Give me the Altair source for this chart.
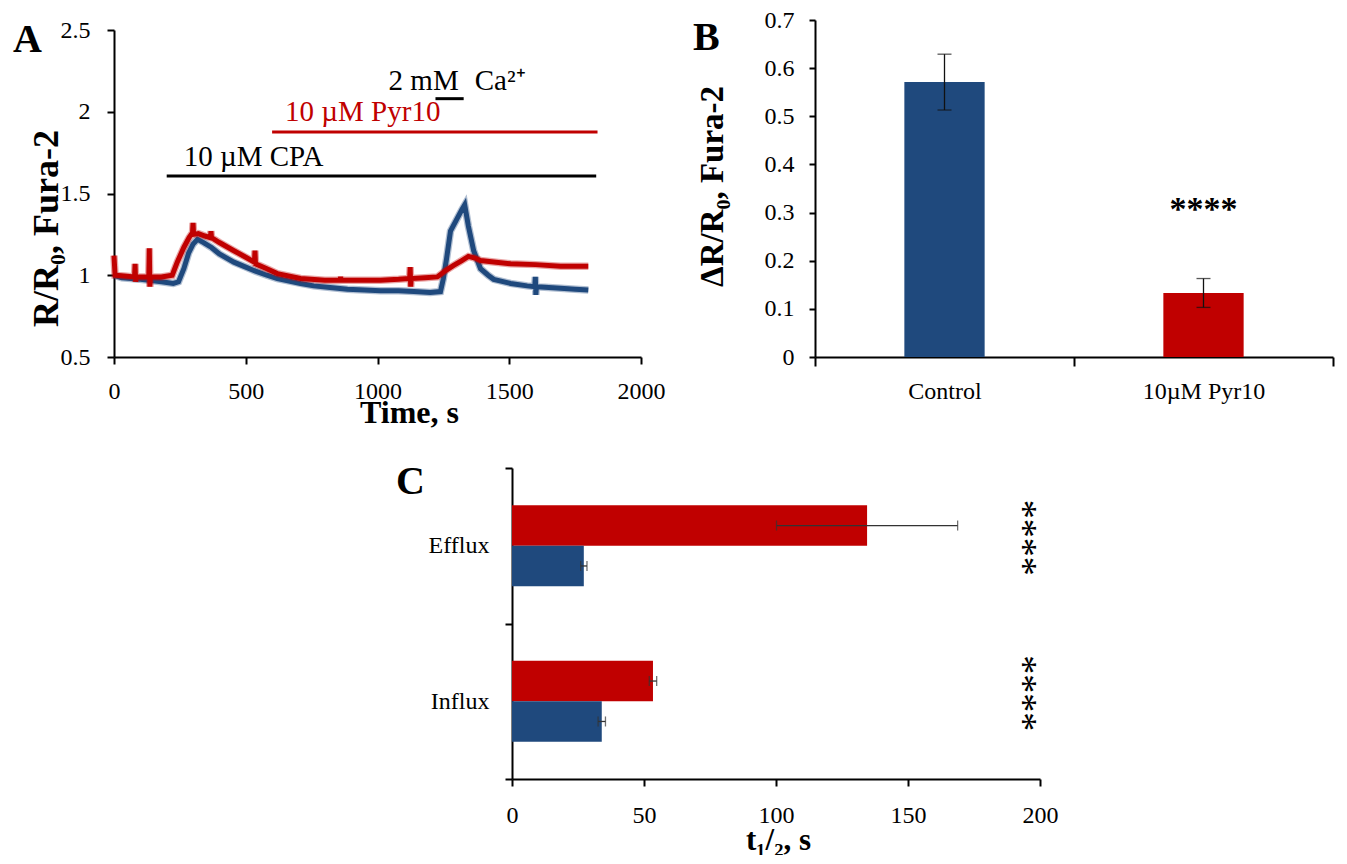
import altair as alt
import pandas as pd

BLUE = "#1F497D"
RED = "#C00000"
FONT = "Liberation Serif"

# ---------------- Panel A: Fura-2 traces ----------------
ctrl_t = [0, 30, 100, 180, 225, 245, 265, 283, 300, 317, 340, 370, 400, 455, 500, 537, 580, 620,
          708, 758, 820, 886, 950, 1012, 1080, 1138, 1200, 1239, 1250, 1262, 1277, 1300, 1320, 1331,
          1345, 1365, 1391, 1420, 1441, 1505, 1568, 1597, 1599, 1601, 1603, 1650, 1695, 1750, 1800]
ctrl_v = [1.0, 0.985, 0.975, 0.96, 0.95, 0.96, 1.04, 1.135, 1.19, 1.22, 1.2, 1.17, 1.13, 1.08, 1.05, 1.025, 1.0, 0.98,
          0.95, 0.935, 0.925, 0.915, 0.91, 0.905, 0.905, 0.9, 0.895, 0.9, 0.98, 1.1, 1.27, 1.34, 1.40, 1.43,
          1.3, 1.15, 1.04, 1.0, 0.975, 0.95, 0.935, 0.93, 0.99, 0.88, 0.93, 0.925, 0.92, 0.915, 0.91]

pyr_t = [0, 4, 40, 78, 80, 82, 84, 110, 132, 134, 136, 138, 180, 221, 240, 265, 285, 298, 300, 302,
         320, 345, 366, 368, 370, 400, 455, 500, 533, 535, 537, 580, 620, 708, 800, 858, 860, 862,
         950, 1012, 1080, 1122, 1124, 1126, 1128, 1180, 1227, 1260, 1289, 1320, 1345, 1370, 1391,
         1450, 1505, 1600, 1695, 1800]
pyr_v = [1.12, 1.0, 0.995, 0.99, 1.07, 0.96, 0.99, 0.99, 0.99, 1.165, 0.93, 0.99, 0.99, 1.0, 1.08, 1.17, 1.23, 1.26, 1.32, 1.25,
         1.255, 1.24, 1.23, 1.27, 1.23, 1.2, 1.15, 1.11, 1.08, 1.15, 1.07, 1.04, 1.01, 0.98, 0.97, 0.97, 0.99, 0.97,
         0.97, 0.97, 0.975, 0.98, 1.05, 0.93, 0.98, 0.985, 0.99, 1.03, 1.06, 1.09, 1.115, 1.105, 1.09,
         1.08, 1.07, 1.065, 1.055, 1.055]

# Treatment bars (start, end, level)
treat_label = ["10 µM CPA", "10 µM Pyr10", "Ca"]
treat_start = [200, 600, 1220]
treat_end = [1830, 1835, 1327]
treat_level = [1.607, 1.876, 2.08]
treat_color = ["#000000", RED, "#000000"]

# ---------------- Panel B ----------------
b_groups = ["Control", "10µM Pyr10"]
b_means = [0.571, 0.133]
b_errs = [0.058, 0.030]

# ---------------- Panel C ----------------
c_phase = ["Efflux", "Efflux", "Influx", "Influx"]
c_group = ["10µM Pyr10", "Control", "10µM Pyr10", "Control"]
c_means = [134.5, 27.2, 53.4, 34.0]
c_errs = [34.3, 1.2, 1.4, 1.4]
c_phases = ["Efflux", "Influx"]

H1 = 337
one = pd.DataFrame({"k": [0]})


def frame(x1, x2, y1, y2):
    # invisible box that fixes the panel's extent in the layout
    return alt.Chart(one).mark_rect(opacity=0).encode(
        x=alt.value(x1), x2=alt.value(x2), y=alt.value(y1), y2=alt.value(y2))


def letter(ch, x, y):
    return alt.Chart(one).mark_text(text=ch, font=FONT, fontSize=40, fontWeight="bold",
                                    align="left", baseline="alphabetic", color="#000").encode(
        x=alt.value(x), y=alt.value(y))


# ======================================================
dfA = pd.concat([
    pd.DataFrame({"t": ctrl_t, "v": ctrl_v, "s": "Control", "i": list(range(len(ctrl_t)))}),
    pd.DataFrame({"t": pyr_t, "v": pyr_v, "s": "Pyr10", "i": list(range(len(pyr_t)))}),
])
dfT = pd.DataFrame({"label": treat_label, "start": treat_start, "end": treat_end,
                    "level": treat_level, "color": treat_color})

xscaleA = alt.Scale(domain=[0, 2000], nice=False)
yscaleA = alt.Scale(domain=[0.5, 2.5], range=[H1, 10], nice=False, zero=False)
xaxisA = alt.Axis(values=[0, 500, 1000, 1500, 2000], format="d", title="Time, s", titleX=295, titleY=65,
                  titleBaseline="alphabetic", labelFlush=False, labelPadding=15, titleFontSize=32)
yaxisA = alt.Axis(values=[0.5, 1, 1.5, 2, 2.5], format=".1~f", title="R/R₀, Fura-2",
                  titleX=-57, titleY=208, titleBaseline="alphabetic", titleAngle=-90,
                  titleFontSize=36, labelPadding=17)


def XA(f):
    return alt.X(f, scale=xscaleA, axis=xaxisA)


def YA(f):
    return alt.Y(f, scale=yscaleA, axis=yaxisA)


baseA = alt.Chart(dfA).encode(x=XA("t:Q"), y=YA("v:Q"), order="i:Q")
blue_halo = baseA.transform_filter("datum.s == 'Control'").mark_line(color=BLUE, strokeWidth=7.5, opacity=0.35)
blue_line = baseA.transform_filter("datum.s == 'Control'").mark_line(color=BLUE, strokeWidth=5)
red_halo = baseA.transform_filter("datum.s == 'Pyr10'").mark_line(color=RED, strokeWidth=7.5, opacity=0.35)
red_line = baseA.transform_filter("datum.s == 'Pyr10'").mark_line(color=RED, strokeWidth=5)

rules = alt.Chart(dfT).mark_rule(strokeWidth=3).encode(
    x=XA("start:Q"), x2="end:Q", y=YA("level:Q"), color=alt.Color("color:N", scale=None))

txt_cpa = alt.Chart(dfT).transform_filter("datum.label == '10 µM CPA'").mark_text(
    align="left", baseline="middle", dx=17, dy=-19, font=FONT, fontSize=29, color="#000").encode(
    x=XA("start:Q"), y=YA("level:Q"), text="label:N")
txt_pyr = alt.Chart(dfT).transform_filter("datum.label == '10 µM Pyr10'").mark_text(
    align="left", baseline="middle", dx=13, dy=-20, font=FONT, fontSize=29, color=RED).encode(
    x=XA("start:Q"), y=YA("level:Q"), text="label:N")
txt_ca1 = alt.Chart(dfT).transform_filter("datum.label == 'Ca'").mark_text(
    align="right", baseline="middle", dx=-5, dy=-18, font=FONT, fontSize=29, color="#000", text="2 mM").encode(
    x=XA("end:Q"), y=YA("level:Q"))
txt_ca2 = alt.Chart(dfT).transform_filter("datum.label == 'Ca'").mark_text(
    align="left", baseline="middle", dx=11, dy=-18, font=FONT, fontSize=29, color="#000", text="Ca²⁺").encode(
    x=XA("end:Q"), y=YA("level:Q"))

panelA = alt.layer(
    frame(-106, 571, -12, 420),
    blue_halo, blue_line, red_halo, red_line, rules, txt_cpa, txt_pyr, txt_ca1, txt_ca2,
    letter("A", -101, 32)
).properties(width=527, height=H1)

# ======================================================
dfB = pd.DataFrame({"g": b_groups, "m": b_means, "e": b_errs})
xB = alt.X("g:N", sort=b_groups, scale=alt.Scale(paddingInner=0, paddingOuter=0),
           axis=alt.Axis(title=None, tickBand="extent", labelAngle=0, labelPadding=13, tickSize=9))
yscaleB = alt.Scale(domain=[0, 0.7], nice=False)
yaxisB = alt.Axis(values=[0, 0.1, 0.2, 0.3, 0.4, 0.5, 0.6, 0.7], format=".1~f", title="ΔR/R₀, Fura-2",
                  titleX=-93, titleY=166, titleBaseline="alphabetic", titleAngle=-90, titleFontSize=33,
                  labelPadding=15, tickSize=6)

baseB = alt.Chart(dfB).transform_calculate(lo="datum.m - datum.e", hi="datum.m + datum.e")
barsB = baseB.mark_bar(width=alt.RelativeBandSize(0.31)).encode(
    x=xB, y=alt.Y("m:Q", scale=yscaleB, axis=yaxisB),
    color=alt.Color("g:N", scale=alt.Scale(domain=b_groups, range=[BLUE, RED]), legend=None))
errB = baseB.mark_rule(color="#111", strokeWidth=1.3).encode(
    x=xB, y=alt.Y("lo:Q", scale=yscaleB, axis=yaxisB), y2="hi:Q")
capB1 = baseB.mark_tick(color="#111", size=14, thickness=1.3).encode(
    x=xB, y=alt.Y("lo:Q", scale=yscaleB, axis=yaxisB))
capB2 = baseB.mark_tick(color="#111", size=14, thickness=1.3).encode(
    x=xB, y=alt.Y("hi:Q", scale=yscaleB, axis=yaxisB))
starB = alt.Chart(pd.DataFrame({"g": ["10µM Pyr10"], "y": [0.31]})).mark_text(
    text="****", font=FONT, fontSize=34, fontWeight="bold", baseline="middle", dy=2, color="#000").encode(
    x=xB, y=alt.Y("y:Q", scale=yscaleB, axis=yaxisB))

panelB = alt.layer(
    frame(-130, 524, -12, 420),
    barsB, errB, capB1, capB2, starB, letter("B", -122, 30)
).properties(width=518, height=H1)

# ======================================================
dfC = pd.DataFrame({"phase": c_phase, "group": c_group, "m": c_means, "e": c_errs})
yC = alt.Y("phase:N", sort=c_phases, scale=alt.Scale(paddingInner=0, paddingOuter=0),
           axis=alt.Axis(title=None, tickBand="extent", labelPadding=16, tickSize=7))
yoC = alt.YOffset("group:N", sort=["10µM Pyr10", "Control"],
                  scale=alt.Scale(paddingInner=0, paddingOuter=0.923))
xscaleC = alt.Scale(domain=[0, 200], nice=False)
xaxisC = alt.Axis(values=[0, 50, 100, 150, 200], format="d", title="t₁/₂, s", titleX=266, titleY=70,
                  titleBaseline="alphabetic", labelFlush=False, labelPadding=17, titleFontSize=31)

baseC = alt.Chart(dfC).transform_calculate(lo="datum.m - datum.e", hi="datum.m + datum.e")
barsC = baseC.mark_bar().encode(
    y=yC, yOffset=yoC, x=alt.X("m:Q", scale=xscaleC, axis=xaxisC),
    color=alt.Color("group:N", scale=alt.Scale(domain=["Control", "10µM Pyr10"], range=[BLUE, RED]),
                    legend=None))
errC = baseC.mark_rule(color="#333", strokeWidth=1.3).encode(
    y=yC, yOffset=yoC, x=alt.X("lo:Q", scale=xscaleC, axis=xaxisC), x2="hi:Q")
capC1 = baseC.mark_tick(color="#333", size=10, thickness=1.3).encode(
    y=yC, yOffset=yoC, x=alt.X("lo:Q", scale=xscaleC, axis=xaxisC))
capC2 = baseC.mark_tick(color="#333", size=10, thickness=1.3).encode(
    y=yC, yOffset=yoC, x=alt.X("hi:Q", scale=xscaleC, axis=xaxisC))
starC = alt.Chart(pd.DataFrame({"phase": c_phases, "x": [196, 196]})).mark_text(
    text="****", font=FONT, fontSize=38, angle=90, align="center", baseline="middle", dx=-8, dy=7,
    color="#000").encode(
    y=yC, x=alt.X("x:Q", scale=xscaleC, axis=xaxisC))

panelC = alt.layer(
    frame(-120, 560, -28, 378),
    barsC, errC, capC1, capC2, starC, letter("C", -116, 26)
).properties(width=528, height=311)

spacer = alt.Chart(one).mark_rect(opacity=0).encode(
    x=alt.value(0), x2=alt.value(278), y=alt.value(0), y2=alt.value(10)
).properties(width=278, height=10)

row1 = alt.hconcat(panelA, panelB, spacing=0)
row2 = alt.hconcat(spacer, panelC, spacing=0)
chart = alt.vconcat(row1, row2, spacing=0).properties(
    padding=0
).configure_view(strokeWidth=0).configure_axis(
    labelFont=FONT, labelFontSize=24, labelColor="#000",
    titleFont=FONT, titleFontSize=30, titleFontWeight="bold", titleColor="#000",
    domainColor="#000", domainWidth=2, tickColor="#000", tickWidth=2, tickSize=7, grid=False
)

chart.save("out.html", embed_options={"renderer": "svg", "actions": False})
